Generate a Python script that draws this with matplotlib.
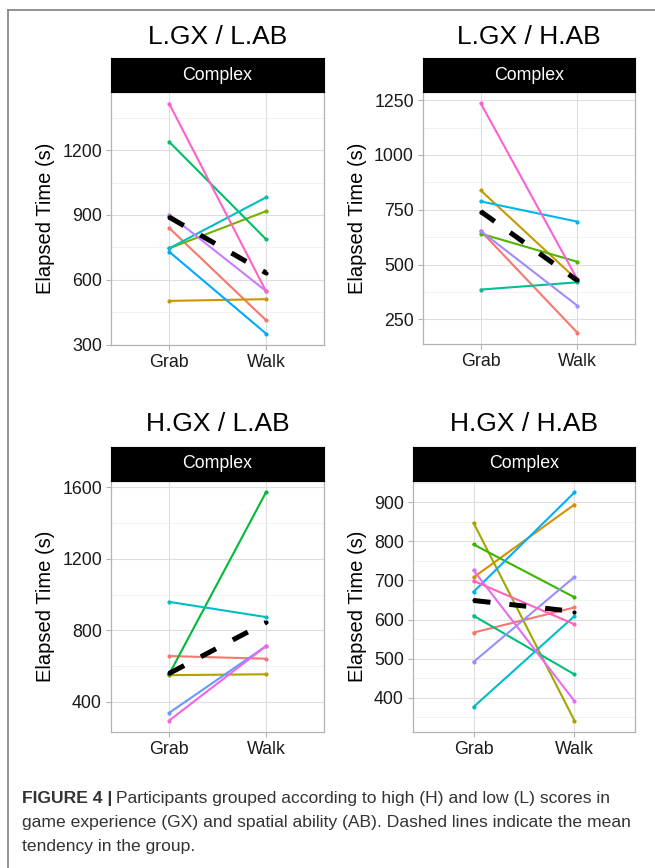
import numpy as np
import matplotlib
matplotlib.use("Agg")
import matplotlib.pyplot as plt
from matplotlib.lines import Line2D

W, H = 655, 868
plt.rcParams['font.family'] = ['Liberation Sans', 'DejaVu Sans']

conds = ["Grab", "Walk"]

# elapsed time per participant, Grab -> Walk
lgx_lab_grab = [840, 502, 745, 1239, 745, 730, 902, 1416]
lgx_lab_walk = [413, 510, 917, 788, 981, 351, 548, 548]

lgx_hab_grab = [653, 838, 641, 386, 788, 653, 1235]
lgx_hab_walk = [190, 430, 513, 419, 696, 313, 434]

hgx_lab_grab = [657, 550, 555, 960, 339, 296]
hgx_lab_walk = [642, 555, 1572, 875, 712, 712]

hgx_hab_grab = [567, 708, 847, 792, 610, 377, 671, 492, 726, 699]
hgx_hab_walk = [631, 894, 342, 657, 460, 609, 925, 709, 392, 588]

titles = ["L.GX / L.AB", "L.GX / H.AB", "H.GX / L.AB", "H.GX / H.AB"]
yticks = [[300, 600, 900, 1200],
          [250, 500, 750, 1000, 1250],
          [400, 800, 1200, 1600],
          [400, 500, 600, 700, 800, 900]]

# ggplot default hue palettes
hue = {
    6: ["#F8766D", "#B79F00", "#00BA38", "#00BFC4", "#619CFF", "#F564E3"],
    7: ["#F8766D", "#C49A00", "#53B400", "#00C094", "#00B6EB", "#A58AFF", "#FB61D7"],
    8: ["#F8766D", "#CD9600", "#7CAE00", "#00BE67", "#00BFC4", "#00A9FF", "#C77CFF", "#FF61CC"],
    10: ["#F8766D", "#D89000", "#A3A500", "#39B600", "#00BF7D", "#00BFC4", "#00B0F6",
         "#9590FF", "#E76BF3", "#FF62BC"],
}


def px_rect(l, t, r, b):
    return [l / W, 1 - b / H, (r - l) / W, (b - t) / H]


fig = plt.figure(figsize=(W / 100, H / 100), dpi=100)

# (left, right, strip top, axes top, axes bottom, title y)
boxes = [(111, 324, 58, 92, 345, 37),
         (423, 635, 58, 92, 344, 37),
         (111, 324, 447, 481, 732, 424),
         (413, 635, 447, 481, 732, 424)]

data = [(lgx_lab_grab, lgx_lab_walk), (lgx_hab_grab, lgx_hab_walk),
        (hgx_lab_grab, hgx_lab_walk), (hgx_hab_grab, hgx_hab_walk)]

for (grab, walk), title, ticks, (l, r, st, at, ab, ty) in zip(data, titles, yticks, boxes):
    ax = fig.add_axes(px_rect(l, at, r, ab))
    pal = hue[len(grab)]
    x = np.arange(len(conds))
    for g, w, c in zip(grab, walk, pal):
        ax.plot(x, [g, w], color=c, lw=1.5, marker='o', ms=2.0, zorder=3)
    mg, mw = np.mean(grab), np.mean(walk)
    ax.plot(x, [mg, mw], color='black', lw=3.6, dashes=(3.4, 3.8),
            dash_capstyle='butt', zorder=4)
    ax.plot(x, [mg, mw], 'o', color='black', ms=2.0, zorder=4)

    ax.set_xticks(x)
    ax.set_xticklabels(conds)
    ax.set_yticks(ticks)
    step = ticks[1] - ticks[0]
    ax.set_yticks([t + step / 2 for t in [ticks[0] - step] + ticks], minor=True)
    allv = list(grab) + list(walk)
    lo, hi = min(allv), max(allv)
    pad = 0.05 * (hi - lo)
    ax.set_ylim(lo - pad, hi + pad)
    ax.set_xlim(-0.6, 1.6)
    ax.grid(which='major', color='#DEDEDE', lw=0.8)
    ax.grid(which='minor', axis='y', color='#EDEDED', lw=0.5)
    ax.set_axisbelow(True)
    for s in ax.spines.values():
        s.set_color('#B3B3B3')
        s.set_linewidth(0.9)
    ax.tick_params(which='major', color='#B3B3B3', length=3.5, width=0.8,
                   labelsize=12.8, labelcolor='#1A1A1A', pad=3)
    ax.tick_params(which='minor', length=0)
    ax.set_ylabel("Elapsed Time (s)", fontsize=14.5, color='black', labelpad=5)

    sax = fig.add_axes(px_rect(l, st, r, at))
    sax.set_facecolor('black')
    sax.set_xticks([])
    sax.set_yticks([])
    for s in sax.spines.values():
        s.set_color('black')
    sax.text(0.5, 0.5, "Complex", color='white', fontsize=12.8,
             ha='center', va='center', transform=sax.transAxes)

    fig.text((l + r) / 2 / W, 1 - ty / H, title, fontsize=19,
             ha='center', va='center')

# outer frame (top and left only)
fig.add_artist(Line2D([8 / W, 8 / W], [0, 1 - 10 / H], color='#808080', lw=1.2))
fig.add_artist(Line2D([8 / W, 1], [1 - 10 / H, 1 - 10 / H], color='#808080', lw=1.2))

# caption
cap_size = 12.6
cap_col = '#333333'
renderer = fig.canvas.get_renderer()
t0 = fig.text(22 / W, 1 - 799 / H, "FIGURE 4 |", fontsize=cap_size, fontweight='bold',
              color=cap_col, va='center', ha='left')
bb = t0.get_window_extent(renderer)
fig.text((bb.x1 + 4) / W, 1 - 799 / H,
         "Participants grouped according to high (H) and low (L) scores in",
         fontsize=cap_size, color=cap_col, va='center', ha='left')
fig.text(22 / W, 1 - 822 / H,
         "game experience (GX) and spatial ability (AB). Dashed lines indicate the mean",
         fontsize=cap_size, color=cap_col, va='center', ha='left')
fig.text(22 / W, 1 - 846 / H, "tendency in the group.",
         fontsize=cap_size, color=cap_col, va='center', ha='left')

fig.savefig("out.png", dpi=100)
